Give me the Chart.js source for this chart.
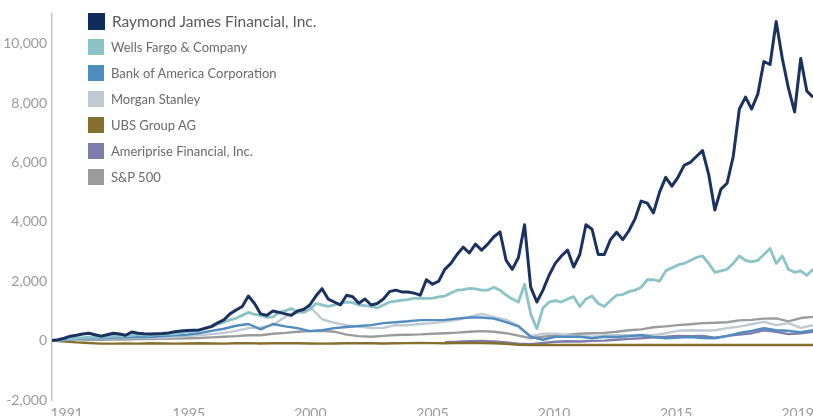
<!DOCTYPE html>
<html>
<head>
<meta charset="utf-8">
<script src="https://cdn.jsdelivr.net/npm/chart.js@4.4.0/dist/chart.umd.min.js"></script>
<style>
  html, body { margin: 0; padding: 0; background: #fff; }
  #wrap { position: relative; width: 813px; height: 416px; overflow: hidden; }
  canvas { display: block; }
  #legend { position: absolute; left: 0; top: 0; font-family: Lato, "Noto Sans", sans-serif; }
  .item { position: absolute; left: 88px; height: 26px; white-space: nowrap; display: flex; align-items: center; }
  .box { width: 16px; height: 16px; margin-right: 7px; flex: none; }
  .lbl { font-size: 13px; color: #6a6a6a; }
</style>
</head>
<body>
<div id="wrap">
  <canvas id="c" width="813" height="416"></canvas>
  <div id="legend"></div>
</div>
<script>
// ---- data ----
const seriesNames = ["Raymond James Financial, Inc.", "Wells Fargo & Company", "Bank of America Corporation",
  "Morgan Stanley", "UBS Group AG", "Ameriprise Financial, Inc.", "S&P 500"];

const xTickPositions = [2.4, 22.3, 42.1, 62.0, 81.8, 101.7, 121.5];
const xTickLabels = ["1991", "1995", "2000", "2005", "2010", "2015", "2019"];
const yTickValues = [-2000, 0, 2000, 4000, 6000, 8000, 10000];

// quarterly samples
const rjfValues = [0,30,80,150,180,220,250,200,150,200,
  250,220,180,290,250,230,220,230,240,260,
  300,320,340,350,360,420,480,600,700,900,
  1030,1150,1500,1250,900,850,1000,950,900,850,
  1000,1050,1200,1500,1750,1400,1300,1200,1530,1480,
  1260,1400,1200,1250,1400,1650,1700,1640,1640,1600,
  1530,2050,1900,2000,2400,2600,2900,3150,2950,3250,
  3050,3250,3500,3660,2700,2400,2800,3900,1800,1300,
  1700,2200,2600,2850,3050,2480,2900,3900,3750,2900,
  2900,3400,3650,3400,3700,4100,4700,4630,4300,5000,
  5500,5200,5500,5900,6000,6200,6400,5600,4400,5100,
  5300,6200,7800,8200,7800,8300,9400,9300,10750,9500,
  8500,7700,9500,8400,8200];

const wfcValues = [0,20,50,70,80,100,110,110,120,130,
  140,150,160,180,200,190,180,200,210,220,
  230,260,300,320,350,400,460,550,620,700,
  750,850,950,880,850,780,800,950,1000,1080,
  950,950,1050,1250,1200,1150,1200,1250,1300,1280,
  1200,1180,1150,1100,1200,1300,1330,1360,1380,1420,
  1430,1420,1430,1470,1500,1600,1700,1720,1760,1740,
  1700,1700,1800,1700,1530,1400,1300,1900,900,400,
  1100,1300,1350,1300,1400,1480,1150,1400,1500,1250,
  1150,1350,1530,1550,1650,1700,1800,2050,2050,2000,
  2350,2450,2550,2600,2700,2800,2850,2600,2300,2350,
  2400,2600,2850,2700,2650,2700,2900,3100,2600,2850,
  2400,2300,2350,2200,2400];

// half-yearly samples
const bacValues = [0,30,60,90,80,100,110,130,120,150,
  180,200,250,330,400,500,560,380,560,480,
  420,320,350,420,460,490,520,590,620,650,
  690,690,700,740,780,780,740,620,480,130,
  30,130,130,130,80,130,120,150,180,120,
  80,100,120,90,80,150,260,330,420,350,
  330,280,350];

const msValues = [0,20,40,60,60,80,90,100,90,100,
  120,150,180,220,260,330,420,440,520,800,
  1000,1150,720,600,520,470,420,430,520,520,
  560,590,640,700,800,900,800,700,500,150,
  230,230,180,150,130,170,180,180,200,180,
  250,330,350,340,350,420,470,550,630,520,
  590,430,520];

const ubsValues = [0,-30,-60,-80,-100,-100,-95,-100,-90,-95,
  -100,-95,-90,-95,-100,-90,-85,-95,-90,-85,
  -90,-95,-100,-95,-90,-85,-90,-95,-90,-85,
  -80,-85,-90,-80,-75,-80,-90,-110,-140,-150,
  -150,-150,-150,-145,-150,-150,-150,-150,-150,-150,
  -150,-150,-150,-150,-150,-150,-150,-150,-150,-150,
  -150,-150,-150];

const ampValues = [null,null,null,null,null,null,null,null,null,null,
  null,null,null,null,null,null,null,null,null,null,
  null,null,null,null,null,null,null,null,null,null,
  null,null,-50,-40,-20,-10,-30,-60,-100,-120,
  -80,-40,-20,-30,-10,0,30,60,80,110,
  130,160,150,160,100,160,200,250,350,300,
  220,250,300];

const spxValues = [0,10,20,30,30,40,40,50,50,60,
  70,80,90,110,130,150,180,180,230,260,
  300,320,330,300,200,150,130,160,190,200,
  210,230,250,270,300,320,300,250,170,80,
  130,170,200,230,250,260,300,350,380,450,
  480,520,550,590,600,620,680,700,740,750,
  650,760,800];

// ---- presentation ----
const colors = ["#1b3160", "#8bc3c7", "#4f8dc0", "#bfc9d1", "#856f2e", "#7f7dab", "#9b9b9b"];
const legendColors = ["#0f2c5a", "#8bc3c7", "#4f8dc0", "#bfc9d1", "#856f2e", "#7f7dab", "#9b9b9b"];
const widths = [3, 2.8, 2.4, 2.4, 2.4, 2.4, 2.4];

const quarterPos = rjfValues.map((_, i) => i);
const halfPos = bacValues.map((_, i) => i * 2);
const pts = (xs, ys) => ys.map((y, i) => ({ x: xs[i], y: y }));

const seriesData = [
  pts(quarterPos, rjfValues),
  pts(quarterPos, wfcValues),
  pts(halfPos, bacValues),
  pts(halfPos, msValues),
  pts(halfPos, ubsValues),
  pts(halfPos, ampValues),
  pts(halfPos, spxValues)
];

const datasets = seriesNames.map((name, i) => ({
  label: name,
  data: seriesData[i],
  borderColor: colors[i],
  backgroundColor: colors[i],
  borderWidth: widths[i],
  borderJoinStyle: 'round',
  pointRadius: 0,
  pointHoverRadius: 0,
  fill: false,
  tension: 0,
  spanGaps: false
}));

const FONT = 'Lato';

new Chart(document.getElementById('c'), {
  type: 'line',
  data: { datasets: datasets },
  options: {
    responsive: false,
    animation: false,
    events: [],
    layout: { padding: { top: 14, left: 0, right: 0, bottom: 0 } },
    plugins: { legend: { display: false }, tooltip: { enabled: false } },
    scales: {
      x: {
        type: 'linear',
        min: 0,
        max: 124,
        grid: { display: false, drawTicks: false },
        border: { display: false },
        afterBuildTicks: (axis) => { axis.ticks = xTickPositions.map(v => ({ value: v })); },
        afterFit: (axis) => { axis.height = 16; axis.paddingLeft = 0; axis.paddingRight = 0; },
        ticks: {
          autoSkip: false,
          maxRotation: 0,
          padding: 5,
          color: '#9a9a9a',
          font: { family: FONT, size: 14 },
          callback: (v, i) => xTickLabels[i]
        }
      },
      y: {
        min: -2000,
        max: 11000,
        grid: { display: false, drawTicks: false },
        border: { display: true, color: '#c4c4c4', width: 1.5 },
        afterBuildTicks: (axis) => { axis.ticks = yTickValues.map(v => ({ value: v })); },
        afterFit: (axis) => { axis.width = 52; axis.paddingTop = 0; axis.paddingBottom = 0; },
        ticks: {
          padding: 5,
          color: '#9a9a9a',
          font: { family: FONT, size: 14 },
          callback: (v) => v.toLocaleString('en-US')
        }
      }
    }
  }
});

// HTML legend overlaid on the plot
const legend = document.getElementById('legend');
seriesNames.forEach((name, i) => {
  const item = document.createElement('div');
  item.className = 'item';
  item.style.top = (8 + 26 * i) + 'px';
  const box = document.createElement('div');
  box.className = 'box';
  box.style.background = legendColors[i];
  const lbl = document.createElement('span');
  lbl.className = 'lbl';
  lbl.textContent = name;
  if (i === 0) { lbl.style.fontSize = '15.5px'; lbl.style.color = '#5a5a5a'; box.style.width = '17px'; box.style.height = '17px'; }
  item.appendChild(box);
  item.appendChild(lbl);
  legend.appendChild(item);
});
</script>
</body>
</html>
